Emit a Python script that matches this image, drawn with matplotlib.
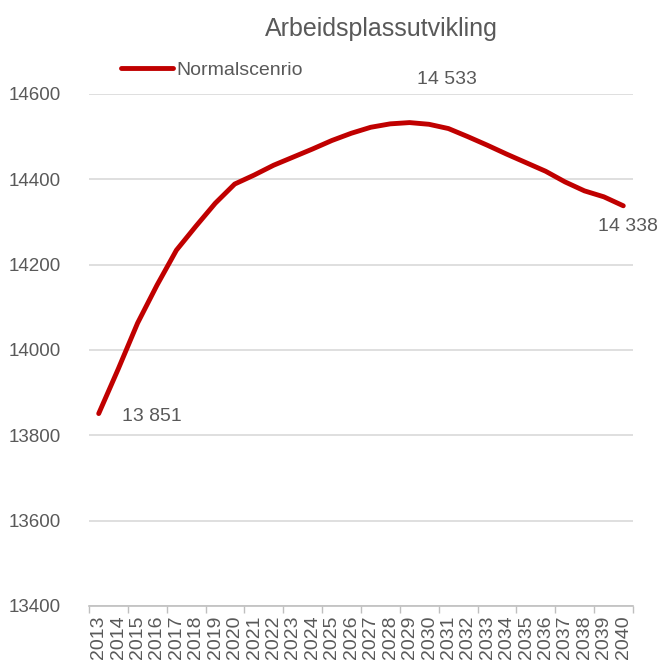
import numpy as np
import matplotlib
matplotlib.use("Agg")
import matplotlib.pyplot as plt

plt.rcParams['font.family'] = ['Liberation Sans', 'DejaVu Sans']

years = [str(y) for y in range(2013, 2041)]
normal = [13851, 13955, 14063, 14152, 14234, 14290, 14344, 14389, 14410, 14433,
          14452, 14471, 14491, 14508, 14522, 14530, 14533, 14529, 14519, 14500,
          14480, 14459, 14439, 14419, 14394, 14373, 14359, 14338]
label_idx = [0, 16, 27]
y_ticks = [13400, 13600, 13800, 14000, 14200, 14400, 14600]

red = '#C00000'
grey = '#595959'

fig = plt.figure(figsize=(6.62, 6.65), dpi=100)
ax = fig.add_axes([89 / 662, 1 - 606 / 665, 544 / 662, 512 / 665])

x = np.arange(len(years))
ax.plot(x, normal, color=red, lw=3.5, solid_capstyle='round', label='Normalscenrio')

ax.set_xlim(-0.5, len(years) - 0.5)
ax.set_ylim(13400, 14600)
ax.set_yticks(y_ticks)
ax.set_yticklabels([str(v) for v in y_ticks])
ax.grid(axis='y', color='#d9d9d9', lw=1.2)
ax.set_axisbelow(True)

ax.set_xticks(x)
ax.set_xticklabels(years, rotation=90, va='top')
ax.tick_params(axis='x', length=0, labelsize=14, colors=grey, pad=7)
ax.set_xticks(np.arange(-0.5, len(years), 2), minor=True)
ax.tick_params(axis='x', which='minor', length=5, color='#bfbfbf', width=1)
ax.tick_params(axis='y', length=0, labelsize=13.5, colors=grey, pad=20)

for s in ['top', 'right', 'left']:
    ax.spines[s].set_visible(False)
ax.spines['bottom'].set_color('#bfbfbf')
ax.spines['bottom'].set_linewidth(1.2)

offsets = {0: (17, -2, 'left', 'center'),
           16: (27, 31, 'center', 'center'),
           27: (3, -15, 'center', 'center')}
for i in label_idx:
    dx, dy, ha, va = offsets[i]
    ax.annotate(f"{normal[i]:,}".replace(',', ' '), xy=(x[i], normal[i]),
                xytext=(dx, dy), textcoords='offset points', ha=ha, va=va,
                fontsize=14, color=grey)

fig.text(381 / 662, 1 - 29 / 665, 'Arbeidsplassutvikling', ha='center', va='center',
         fontsize=18, color=grey)

ax.legend(loc='center left', bbox_to_anchor=(103 / 662, 1 - 70 / 665),
          bbox_transform=fig.transFigure, frameon=False, fontsize=14,
          handlelength=2.7, handletextpad=0.15, labelcolor=grey)

fig.savefig('out.png', dpi=100)
